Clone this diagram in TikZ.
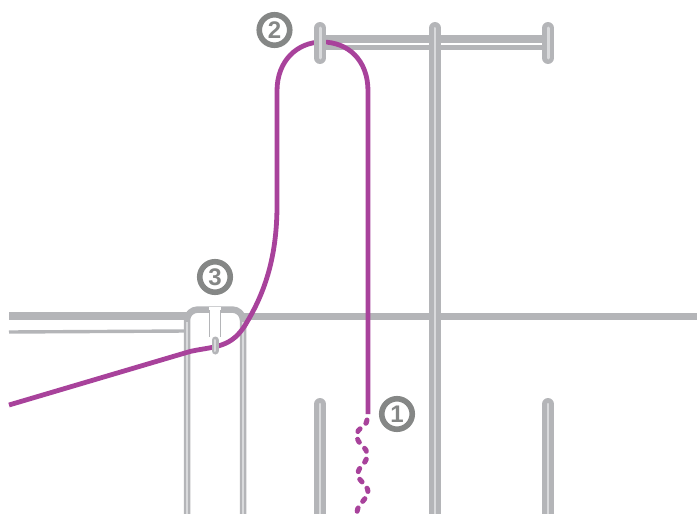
\documentclass[tikz,border=0pt]{standalone}
\usepackage{fontspec}
\setmainfont{Liberation Sans}
\definecolor{rail}{HTML}{B4B5B8}
\definecolor{core}{HTML}{D9DADC}
\definecolor{ringc}{HTML}{858786}
\definecolor{thread}{HTML}{A8429B}
\tikzset{
  badge/.style={circle,draw=ringc,line width=5.6pt,fill=white,minimum size=30.5pt,inner sep=0pt,text=ringc,font=\bfseries\fontsize{24}{24}\selectfont},
  railo/.style={draw=rail,line cap=round,line width=#1},
  railc/.style={draw=core,line cap=round,line width=#1},
  threadline/.style={draw=thread,line width=4.8pt},
}
\begin{document}
\begin{tikzpicture}[x=1pt,y=-1pt]
\useasboundingbox (0,0) rectangle (697,514);
% left table rails
\draw[rail,line width=8pt] (9,315.5) -- (187,315.5);
\draw[rail,line width=3.4pt] (9,332) -- (187,331);
% right table rail
\draw[rail,line width=7pt] (240,316.5) -- (697,316.5);
% guide box
\draw[rail,line width=6.5pt,line join=round] (187,514) -- (187,320) to[out=90,in=180] (198,309.5) -- (232,309.5) to[out=0,in=90] (243,320) -- (243,514);
\draw[core,line width=1.2pt] (187,514) -- (187,322);
\draw[core,line width=1.2pt] (243,514) -- (243,322);
% top bar
\draw[rail,line width=15pt] (320,42) -- (548,42);
\draw[white,line width=2pt] (326,43.5) -- (543,43.5);
% stems
\draw[railo=12pt] (435,28) -- (435,520);
\draw[railc=2pt] (435,28) -- (435,520);
% stems below
\draw[railo=12pt] (320,404) -- (320,520);
\draw[railc=2.5pt] (320,404) -- (320,520);
\draw[railo=12pt] (548,404) -- (548,520);
\draw[railc=2.5pt] (548,404) -- (548,520);
% bar ends
\draw[railo=12pt] (548,28) -- (548,58);
\draw[railc=3pt] (548,28) -- (548,58);
% thread
\draw[threadline] (9,405) -- (190,351.5) .. controls (214,346) and (232,349) .. (247,322) .. controls (268,287) and (277,250) .. (277,205) -- (277,91) .. controls (277,60) and (298,42) .. (322,42) .. controls (348,42) and (368,60) .. (368,91) -- (368,414);
\draw[thread,line width=5pt,line cap=round,dash pattern=on 3.5pt off 8pt] (367,420) .. controls (366,428) and (357,426) .. (357,436) .. controls (357,445) and (368,446) .. (367,456) .. controls (366,465) and (358,466) .. (358,474) .. controls (358,482) and (368,484) .. (368,492) .. controls (367,500) and (358,503) .. (357,512);
% pin over thread at 2
\draw[railo=12pt] (320,28) -- (320,58);
\draw[railc=3pt] (320,28) -- (320,58);
% centre guide
\fill[white] (209,307) rectangle (221,337);
\draw[rail,line width=1pt] (209.5,310) -- (209.5,337);
\draw[rail,line width=1pt] (220.5,310) -- (220.5,337);
\draw[railo=7pt] (215,340) -- (215,351);
\draw[railc=2pt] (215,340) -- (215,351);
% badges
\node[badge] (one) at (397,414) {1};
\node[badge] (two) at (274.5,30) {2};
\node[badge] (three) at (215,277) {3};
\end{tikzpicture}
\end{document}
